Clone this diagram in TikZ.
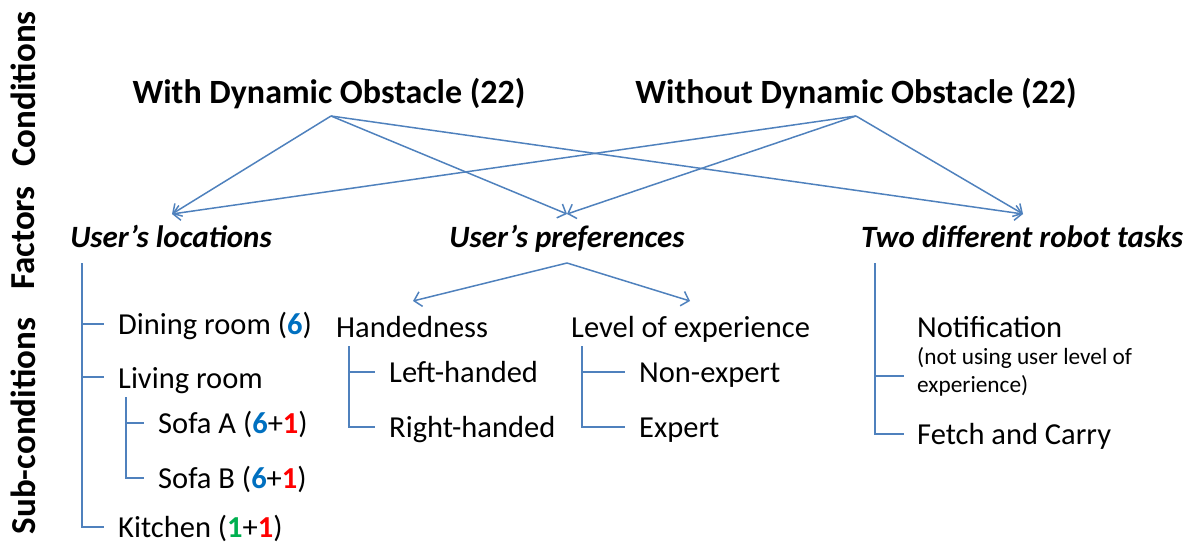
\documentclass[tikz,border=0pt]{standalone}
\usepackage{fontspec}
\setmainfont{Carlito}
\usetikzlibrary{arrows.meta}
\definecolor{lineblue}{RGB}{79,129,189}
\definecolor{numblue}{RGB}{0,112,192}
\definecolor{numred}{RGB}{255,0,0}
\definecolor{numgreen}{RGB}{0,176,80}
\tikzset{
  conn/.style={draw=lineblue, line width=1.5pt},
  arr/.style={conn, -{Straight Barb[length=7pt,width=15pt,line width=1.5pt]}},
  side/.style={font=\fontsize{35}{40}\bfseries\selectfont, rotate=90, inner sep=0pt},
  cond/.style={font=\fontsize{34}{40}\bfseries\selectfont, inner sep=0pt, anchor=base},
  fact/.style={font=\fontsize{31}{37}\bfseries\itshape\selectfont, inner sep=0pt, anchor=base},
  item/.style={font=\fontsize{30.5}{36}\selectfont, inner sep=0pt, anchor=base west},
  small/.style={font=\fontsize{23.3}{28}\selectfont, inner sep=0pt, anchor=base west},
}
\newcommand{\numB}[1]{\textcolor{numblue}{\textbf{#1}}}
\newcommand{\numR}[1]{\textcolor{numred}{\textbf{#1}}}
\newcommand{\numG}[1]{\textcolor{numgreen}{\textbf{#1}}}
\begin{document}
\begin{tikzpicture}[x=1pt,y=-1pt]
\useasboundingbox (0,0) rectangle (1191,543);
% side labels
\node[side] (sConditions) at (23,89) {Conditions};
\node[side] (sFactors) at (23,238) {Factors};
\node[side] (sSub) at (23,426) {Sub-conditions};
% conditions
\node[cond] (withD) at (329,103) {With Dynamic Obstacle (22)};
\node[cond] (withoutD) at (856,103) {Without Dynamic Obstacle (22)};
\coordinate (withS) at (331,116);
\coordinate (withoutS) at (856,116);
% factors
\node[fact] (loc) at (171,247) {User’s locations};
\node[fact] (pref) at (567,247) {User’s preferences};
\node[fact] (task) at (1022,247) {Two different robot tasks};
\coordinate (locT) at (172,214);
\coordinate (prefT) at (567,214);
\coordinate (taskT) at (1023,214);
\draw[arr] (withS) -- (locT);
\draw[arr] (withS) -- (prefT);
\draw[arr] (withS) -- (taskT);
\draw[arr] (withoutS) -- (locT);
\draw[arr] (withoutS) -- (prefT);
\draw[arr] (withoutS) -- (taskT);
% locations tree
\coordinate (locS) at (82,263);
\node[item] (dining) at (118,334) {Dining room (\numB{6})};
\node[item] (living) at (118,388) {Living room};
\node[item] (sofaA) at (158,433) {Sofa A (\numB{6}+\numR{1})};
\node[item] (sofaB) at (158,488) {Sofa B (\numB{6}+\numR{1})};
\node[item] (kitchen) at (118,537) {Kitchen (\numG{1}+\numR{1})};
\coordinate (livS) at (126,397);
\draw[conn] (locS) |- (104,527) coordinate (kT);
\draw[conn] (locS |- 0,324) -- (104,324) coordinate (dT);
\draw[conn] (locS |- 0,377) -- (104,377) coordinate (lT);
\draw[conn] (livS) |- (144,478) coordinate (bT);
\draw[conn] (livS |- 0,423) -- (144,423) coordinate (aT);
% preferences
\coordinate (prefS) at (567,263);
\coordinate (handT) at (413,301);
\coordinate (levT) at (690,301);
\draw[arr] (prefS) -- (handT);
\draw[arr] (prefS) -- (levT);
\node[item] (hand) at (336,337) {Handedness};
\node[item] (lev) at (571,337) {Level of experience};
\node[item] (lefth) at (389,382) {Left-handed};
\node[item] (righth) at (389,437) {Right-handed};
\node[item] (nonexp) at (639,382) {Non-expert};
\node[item] (exp) at (639,437) {Expert};
\coordinate (handS) at (349,346);
\coordinate (levS) at (582,346);
\draw[conn] (handS) |- (375,427);
\draw[conn] (handS |- 0,372) -- (375,372);
\draw[conn] (levS) |- (625,427);
\draw[conn] (levS |- 0,372) -- (625,372);
% tasks
\coordinate (taskS) at (875,263);
\node[item] (notif) at (917,337) {Notification};
\node[small] (notif2) at (917,364) {(not using user level of};
\node[small] (notif3) at (917,392) {experience)};
\node[item] (fetch) at (917,444) {Fetch and Carry};
\draw[conn] (taskS) |- (904,434);
\draw[conn] (taskS |- 0,376) -- (904,376);
\end{tikzpicture}
\end{document}
